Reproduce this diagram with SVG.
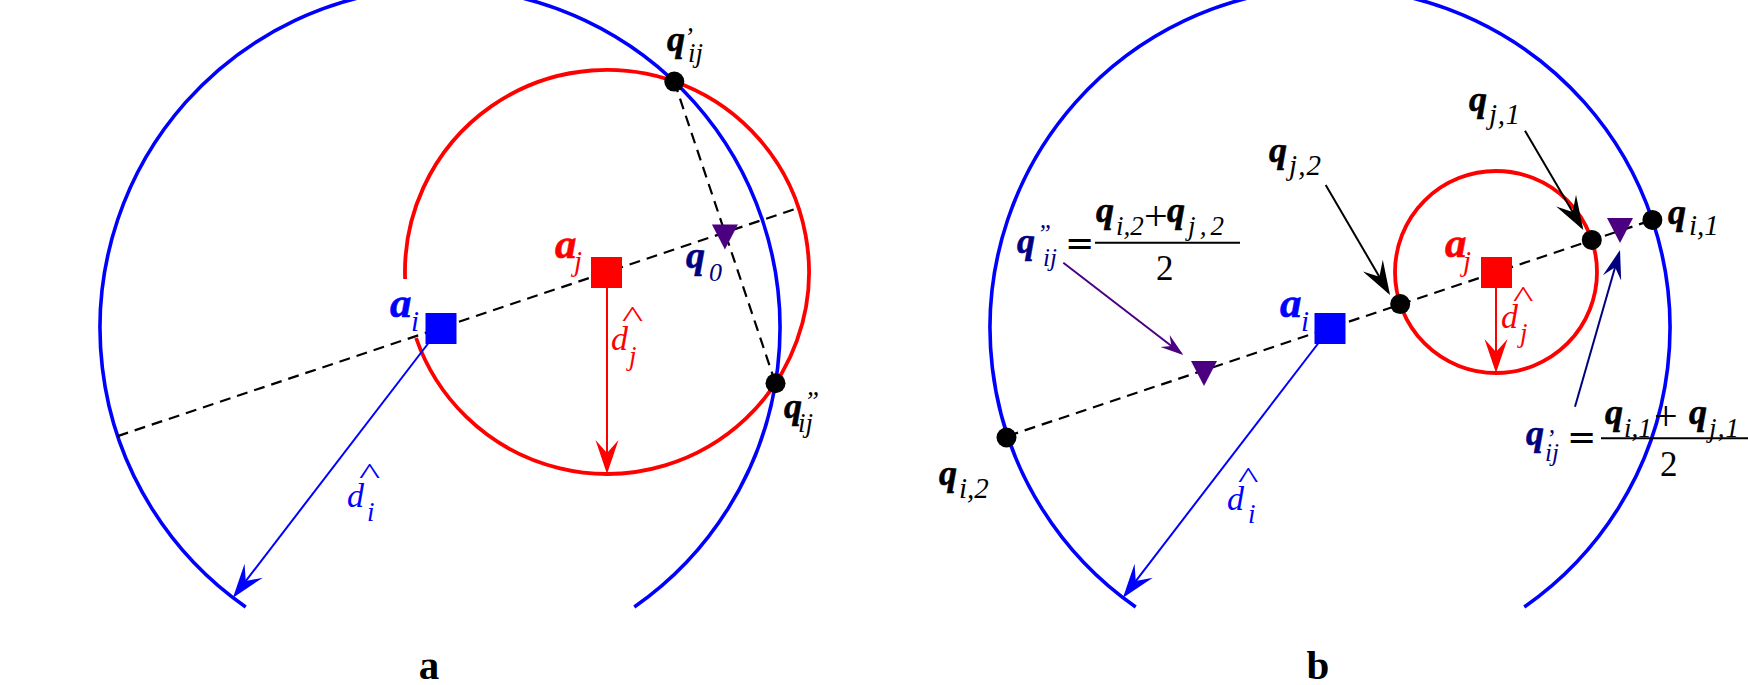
<svg xmlns="http://www.w3.org/2000/svg" width="1748" height="685" viewBox="0 0 1748 685">
<defs>
<style>
.ci{fill:none;stroke:#0000FF;stroke-width:3.6}
.cj{fill:none;stroke:#FF0000;stroke-width:3.8}
.dash{fill:none;stroke:#000;stroke-width:2.2;stroke-dasharray:11 7}
.ln{fill:none;stroke-width:2}
.dot{fill:#000}
.tri{fill:#4B0082}
.bi{font-family:"Liberation Serif","Times New Roman",serif;font-weight:bold;font-style:italic;font-size:36px;stroke-width:0.6}
.ba{font-family:"Liberation Serif","Times New Roman",serif;font-weight:bold;font-style:italic;font-size:43px;stroke-width:0.6}
.it{font-family:"Liberation Serif","Times New Roman",serif;font-style:italic;font-size:27px}
.it28{font-family:"Liberation Serif","Times New Roman",serif;font-style:italic;font-size:29px}
.dd{font-family:"Liberation Serif","Times New Roman",serif;font-style:italic;font-size:34px}
.rm{font-family:"Liberation Serif","Times New Roman",serif;font-size:35px}
.hat{font-family:"Liberation Serif","Times New Roman",serif;font-size:30px}
.eq{font-family:"DejaVu Sans",sans-serif;font-size:35px}
.cap{font-family:"Liberation Serif","Times New Roman",serif;font-weight:bold;font-size:41px}
.blue{fill:#0000FF}.red{fill:#FF0000}.navy{fill:#000080}.blk{fill:#000}
.bi.blk,.ba.blk{stroke:#000}.bi.navy{stroke:#000080}.ba.blue{stroke:#0000FF}.ba.red{stroke:#FF0000}
</style>
<marker id="mRed" viewBox="-36 -14 42 28" refX="0" refY="0" markerWidth="42" markerHeight="28" markerUnits="userSpaceOnUse" orient="auto"><path d="M3,0 L-31,-11.5 L-18,0 L-31,11.5 Z" fill="#FF0000"/></marker>
<marker id="mBlue" viewBox="-36 -14 42 28" refX="0" refY="0" markerWidth="42" markerHeight="28" markerUnits="userSpaceOnUse" orient="auto"><path d="M3,0 L-31,-11.5 L-18,0 L-31,11.5 Z" fill="#0000FF"/></marker>
<marker id="mBlack" viewBox="-36 -14 42 28" refX="0" refY="0" markerWidth="42" markerHeight="28" markerUnits="userSpaceOnUse" orient="auto"><path d="M3,0 L-31,-11.5 L-18,0 L-31,11.5 Z" fill="#000"/></marker>
<marker id="mPurple" viewBox="-26 -10 30 20" refX="0" refY="0" markerWidth="30" markerHeight="20" markerUnits="userSpaceOnUse" orient="auto"><path d="M3,0 L-20,-7.5 L-12,0 L-20,7.5 Z" fill="#4B0082"/></marker>
<marker id="mNavy" viewBox="-32 -12 36 24" refX="0" refY="0" markerWidth="36" markerHeight="24" markerUnits="userSpaceOnUse" orient="auto"><path d="M3,0 L-26,-9.5 L-15,0 L-26,9.5 Z" fill="#000080"/></marker>
</defs>
<rect x="0" y="0" width="1748" height="685" fill="#FFFFFF"/>

<!-- ================= Panel a ================= -->
<g id="a-circle-i"><path class="ci" d="M245.7,607 A340,340 0 1 1 634.3,607"/></g>
<g id="a-circle-j"><path class="cj" d="M405.1,279 A202,202 0 1 1 416.1,338"/></g>

<g id="a-connectors">
<line class="dash" x1="117.6" y1="436.1" x2="798.6" y2="207.8"/>
<line class="dash" x1="674.3" y1="81.6" x2="775.5" y2="383.3"/>
<line class="ln" stroke="#FF0000" x1="607" y1="272" x2="607" y2="471" marker-end="url(#mRed)"/>
<line class="ln" stroke="#0000FF" x1="440" y1="328" x2="234.8" y2="595.3" marker-end="url(#mBlue)"/>
</g>

<g id="a-node-ai"><rect x="425.5" y="313" width="31" height="31" fill="#0000FF"/>
<text class="ba blue" x="390" y="317">a</text><text class="it28 blue" x="411" y="331">i</text></g>
<g id="a-node-aj"><rect x="591" y="257" width="31" height="31" fill="#FF0000"/>
<text class="ba red" x="555" y="258">a</text><text class="it28 red" x="574" y="271">j</text></g>
<g id="a-label-dj"><text class="dd red" x="611" y="350">d</text><text class="hat red" transform="translate(622,327) scale(1.5,1)" x="0" y="0">^</text><text class="it red" x="629" y="365">j</text></g>
<g id="a-label-di"><text class="dd blue" x="347" y="507">d</text><text class="hat blue" transform="translate(359,484) scale(1.5,1)" x="0" y="0">^</text><text class="it blue" x="367" y="521">i</text></g>

<g id="a-node-q1"><circle class="dot" cx="674.3" cy="81.6" r="10"/>
<text class="bi blk" x="667" y="51">q</text><text class="it blk" x="684" y="46">’</text><text class="it blk" x="688" y="62">ij</text></g>
<g id="a-node-q2"><circle class="dot" cx="775.5" cy="383.3" r="10"/>
<text class="bi blk" x="784" y="418">q</text><text class="it blk" x="804" y="410">”</text><text class="it blk" x="798" y="432">ij</text></g>
<g id="a-node-q0"><polygon class="tri" points="711.9,224.4 737.9,224.4 724.9,249.4"/>
<text class="bi navy" x="686" y="268" style="font-size:38px">q</text><text class="it navy" x="709" y="281" style="font-size:26px">0</text></g>

<text class="cap blk" x="429" y="679" text-anchor="middle">a</text>

<!-- ================= Panel b ================= -->
<g id="b-circle-i"><path class="ci" d="M1135.7,607 A340,340 0 1 1 1524.3,607"/></g>
<g id="b-circle-j"><circle class="cj" cx="1496" cy="272" r="101"/></g>

<g id="b-connectors">
<line class="dash" x1="1007.6" y1="436.1" x2="1652.4" y2="219.9"/>
<line class="ln" stroke="#FF0000" x1="1496" y1="272" x2="1496" y2="370" marker-end="url(#mRed)"/>
<line class="ln" stroke="#0000FF" x1="1330" y1="328" x2="1124.8" y2="595.3" marker-end="url(#mBlue)"/>
<line class="ln" stroke="#000" x1="1325.7" y1="185" x2="1388.5" y2="292.4" marker-end="url(#mBlack)"/>
<line class="ln" stroke="#000" x1="1525" y1="130.7" x2="1581.8" y2="227.4" marker-end="url(#mBlack)"/>
<line class="ln" stroke="#4B0082" x1="1063.3" y1="262.7" x2="1180.9" y2="353.2" marker-end="url(#mPurple)"/>
<line class="ln" stroke="#000080" x1="1575" y1="406.7" x2="1619.2" y2="252.9" marker-end="url(#mNavy)"/>
</g>

<g id="b-node-ai"><rect x="1314.5" y="313" width="31" height="31" fill="#0000FF"/>
<text class="ba blue" x="1280" y="317">a</text><text class="it28 blue" x="1301" y="331">i</text></g>
<g id="b-node-aj"><rect x="1481" y="257" width="31" height="31" fill="#FF0000"/>
<text class="ba red" x="1445" y="257">a</text><text class="it28 red" x="1463" y="271">j</text></g>
<g id="b-label-dj"><text class="dd red" x="1501" y="328">d</text><text class="hat red" transform="translate(1513,307) scale(1.45,1)" x="0" y="0">^</text><text class="it red" x="1520" y="342">j</text></g>
<g id="b-label-di"><text class="dd blue" x="1227" y="510">d</text><text class="hat blue" transform="translate(1238,488) scale(1.45,1)" x="0" y="0">^</text><text class="it blue" x="1248" y="523">i</text></g>

<g id="b-node-qi1"><circle class="dot" cx="1652.4" cy="219.9" r="10"/>
<text class="bi blk" x="1668" y="224">q</text><text class="it28 blk" x="1689" y="235">i,1</text></g>
<g id="b-node-qi2"><circle class="dot" cx="1006.5" cy="437.5" r="10"/>
<text class="bi blk" x="939" y="485">q</text><text class="it28 blk" x="959" y="498">i,2</text></g>
<g id="b-node-qj1"><circle class="dot" cx="1591.8" cy="239.9" r="10"/>
<text class="bi blk" x="1469" y="111">q</text><text class="it28 blk" x="1489" y="124" textLength="31" lengthAdjust="spacing">j,1</text></g>
<g id="b-node-qj2"><circle class="dot" cx="1400.2" cy="304.1" r="10"/>
<text class="bi blk" x="1269" y="162">q</text><text class="it28 blk" x="1289" y="175" textLength="32" lengthAdjust="spacing">j,2</text></g>

<g id="b-node-q2ij"><polygon class="tri" points="1191,361 1217,361 1204,386"/>
<text class="bi navy" x="1017" y="253">q</text><text class="it navy" x="1037" y="242" style="font-size:25px">”</text><text class="it navy" x="1043" y="266" style="font-size:25px">ij</text>
<text class="eq blk" x="1065" y="255">=</text>
<text class="bi blk" x="1096" y="222">q</text><text class="it blk" x="1116" y="235">i,2</text>
<text class="rm blk" x="1144" y="230" style="font-size:42px">+</text>
<text class="bi blk" x="1167" y="222">q</text><text class="it blk" x="1188" y="235" textLength="36" lengthAdjust="spacing">j,2</text>
<line x1="1095" y1="242.7" x2="1240" y2="242.7" stroke="#000" stroke-width="2"/>
<text class="rm blk" x="1156" y="280">2</text></g>

<g id="b-node-q1ij"><polygon class="tri" points="1607,218 1633,218 1620,243"/>
<text class="bi navy" x="1526" y="445">q</text><text class="it navy" x="1546" y="447" style="font-size:25px">’</text><text class="it navy" x="1545" y="461" style="font-size:25px">ij</text>
<text class="eq blk" x="1567" y="449">=</text>
<text class="bi blk" x="1605" y="424">q</text><text class="it blk" x="1624" y="437">i,1</text>
<text class="rm blk" x="1654" y="430" style="font-size:42px">+</text>
<text class="bi blk" x="1689" y="424">q</text><text class="it blk" x="1709" y="437" textLength="30" lengthAdjust="spacing">j,1</text>
<line x1="1601" y1="438.3" x2="1748" y2="438.3" stroke="#000" stroke-width="2"/>
<text class="rm blk" x="1660" y="476">2</text></g>

<text class="cap blk" x="1318" y="679" text-anchor="middle">b</text>
</svg>
